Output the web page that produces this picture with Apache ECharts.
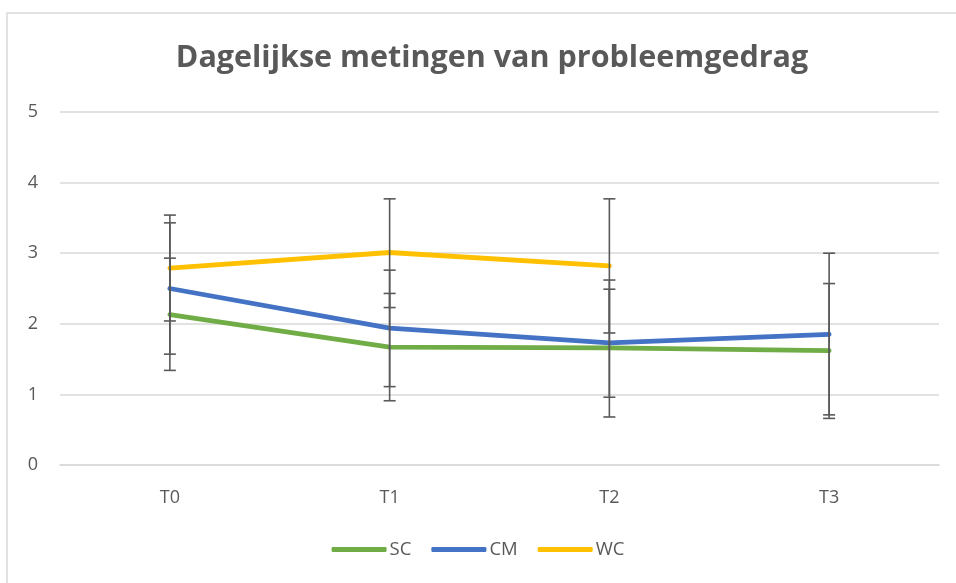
<!DOCTYPE html>
<html>
<head>
<meta charset="utf-8">
<script src="https://cdn.jsdelivr.net/npm/echarts@6/dist/echarts.min.js"></script>
<style>
  html, body { margin: 0; padding: 0; background: #fff; }
  #chart { width: 956px; height: 583px; }
</style>
</head>
<body>
<div id="chart"></div>
<script>
const categories = ['T0', 'T1', 'T2', 'T3'];
const yTicks = [0, 1, 2, 3, 4, 5];

// gemiddelden
const scValues = [2.13, 1.67, 1.66, 1.62];
const cmValues = [2.50, 1.94, 1.73, 1.85];
const wcValues = [2.79, 3.01, 2.82, null];

// foutbalken (onder, boven)
const scLow = [1.34, 0.91, 0.68, 0.66];
const scHigh = [2.93, 2.43, 2.62, 2.57];
const cmLow = [1.57, 1.11, 0.96, 0.71];
const cmHigh = [3.43, 2.76, 2.49, 3.00];
const wcLow = [2.04, 2.23, 1.87, null];
const wcHigh = [3.54, 3.77, 3.77, null];

const textColor = '#595959';
const font = 'Open Sans';

const errData = (low, high) =>
  low.map((l, i) => (l == null ? null : [i, l, high[i]])).filter((d) => d);

const errorSeries = (name, low, high) => ({
  name: name + '_err',
  type: 'custom',
  data: errData(low, high),
  z: 5,
  silent: true,
  renderItem: (params, api) => {
    const x = api.value(0);
    const top = api.coord([x, api.value(2)]);
    const bot = api.coord([x, api.value(1)]);
    const half = 6;
    const style = { stroke: '#595959', lineWidth: 1.6 };
    return {
      type: 'group',
      children: [
        { type: 'line', shape: { x1: top[0], y1: top[1], x2: bot[0], y2: bot[1] }, style },
        { type: 'line', shape: { x1: top[0] - half, y1: top[1], x2: top[0] + half, y2: top[1] }, style },
        { type: 'line', shape: { x1: bot[0] - half, y1: bot[1], x2: bot[0] + half, y2: bot[1] }, style }
      ]
    };
  }
});

const lineSeries = (name, data, color) => ({
  name,
  type: 'line',
  data,
  z: 3,
  symbol: 'none',
  lineStyle: { color, width: 4.8, cap: 'round', join: 'round' },
  itemStyle: { color }
});

const chart = echarts.init(document.getElementById('chart'));
chart.setOption({
  backgroundColor: '#fff',
  animation: false,
  graphic: [
    {
      type: 'rect',
      shape: { x: 7, y: 13, width: 1000, height: 700 },
      style: { fill: 'none', stroke: '#d9d9d9', lineWidth: 1.5 },
      silent: true
    }
  ],
  title: {
    text: 'Dagelijkse metingen van probleemgedrag',
    left: 487,
    textAlign: 'center',
    top: 38,
    textStyle: { fontFamily: font, fontSize: 30.5, fontWeight: 'bold', color: textColor }
  },
  legend: {
    bottom: 19,
    left: 'center',
    itemWidth: 55,
    itemHeight: 5,
    itemGap: 20,
    data: [
      { name: 'SC', icon: 'roundRect' },
      { name: 'CM', icon: 'roundRect' },
      { name: 'WC', icon: 'roundRect' }
    ],
    textStyle: { fontFamily: font, fontSize: 18.5, color: textColor, padding: [0, 0, 0, -2] }
  },
  grid: { left: 60, right: 17, top: 112, bottom: 118 },
  xAxis: {
    type: 'category',
    data: categories,
    axisLine: { lineStyle: { color: '#d9d9d9', width: 1.5 } },
    axisTick: { show: false },
    axisLabel: { fontFamily: font, fontSize: 18, color: textColor, margin: 24 }
  },
  yAxis: {
    type: 'value',
    min: yTicks[0],
    max: yTicks[yTicks.length - 1],
    interval: 1,
    axisLine: { show: false },
    axisTick: { show: false },
    axisLabel: { fontFamily: font, fontSize: 18, color: textColor, margin: 22 },
    splitLine: { lineStyle: { color: '#d9d9d9', width: 1.5 } }
  },
  series: [
    lineSeries('SC', scValues, '#70AD47'),
    lineSeries('CM', cmValues, '#4472C4'),
    lineSeries('WC', wcValues, '#FFC000'),
    errorSeries('SC', scLow, scHigh),
    errorSeries('CM', cmLow, cmHigh),
    errorSeries('WC', wcLow, wcHigh)
  ]
});
</script>
</body>
</html>
